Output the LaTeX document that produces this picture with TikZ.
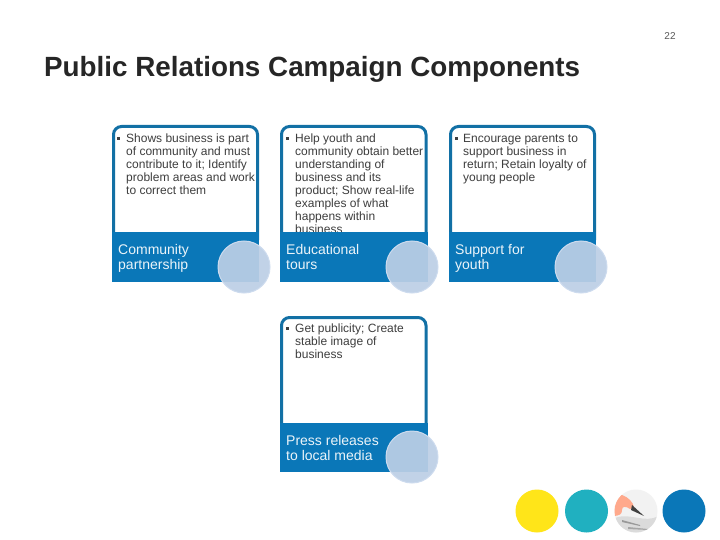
\documentclass[tikz,border=0pt]{standalone}
\usepackage{fontspec}
\setmainfont{Liberation Sans}
\definecolor{campblue}{RGB}{10,119,184}
\definecolor{edgeblue}{RGB}{18,112,165}
\definecolor{bubble}{RGB}{188,207,230}
\definecolor{bubbleedge}{RGB}{205,219,238}
\definecolor{sunny}{RGB}{255,229,25}
\definecolor{teal2}{RGB}{32,176,192}
\definecolor{bodytxt}{RGB}{62,62,62}
\tikzset{
  panel/.style={draw=edgeblue,line width=3pt,fill=white,rounded corners=8pt},
  band/.style={fill=campblue,draw=none},
  bubblec/.style={circle,fill=bubble,fill opacity=0.92,draw=bubbleedge,line width=1pt,minimum size=52pt,inner sep=0pt},
  bodytext/.style={anchor=north west,align=left,inner sep=0pt,text=bodytxt,font=\fontsize{12}{13}\selectfont},
  bulletmark/.style={anchor=center,inner sep=0pt,fill=black!75,minimum size=3pt},
  labeltext/.style={anchor=north west,align=left,inner sep=0pt,text=white!92!campblue,font=\fontsize{14}{15}\selectfont},
  dot/.style={circle,minimum size=43pt,inner sep=0pt}
}
\begin{document}
\begin{tikzpicture}[x=1pt,y=-1pt]
\useasboundingbox (0,0) rectangle (720,540);
\fill[white] (0,0) rectangle (720,540);
\node[anchor=base,text=black!65,font=\fontsize{10}{12}\selectfont] (pageno) at (670,40) {22};
\node[anchor=base west,inner sep=0pt,text=black!85,font=\bfseries\fontsize{27.8}{30}\selectfont] (title) at (44,77) {Public Relations Campaign Components};

% Card 1
\draw[panel] (113.5,240) -- (113.5,126.5) -- (257.5,126.5) -- (257.5,240);
\node[bulletmark] (b1) at (118,138.5) {};
\node[bodytext] (t1) at (126,134) {Shows business is part\\of community and must\\contribute to it; Identify\\problem areas and work\\to correct them};
\fill[band] (112,232) rectangle (259,282);
\node[labeltext] (l1) at (118,244.5) {Community\\partnership};
\node[bubblec] (c1) at (244,267) {};

% Card 2
\draw[panel] (281.5,240) -- (281.5,126.5) -- (426,126.5) -- (426,240);
\node[bulletmark] (b2) at (287,138.5) {};
\node[bodytext] (t2) at (295,134) {Help youth and\\community obtain better\\understanding of\\business and its\\product; Show real-life\\examples of what\\happens within\\business};
\fill[band] (280,232) rectangle (427.5,282);
\node[labeltext] (l2) at (286,244.5) {Educational\\tours};
\node[bubblec] (c2) at (412,267) {};

% Card 3
\draw[panel] (450.5,240) -- (450.5,126.5) -- (594.5,126.5) -- (594.5,240);
\node[bulletmark] (b3) at (456,138.5) {};
\node[bodytext] (t3) at (463,134) {Encourage parents to\\support business in\\return; Retain loyalty of\\young people};
\fill[band] (449,232) rectangle (596,282);
\node[labeltext] (l3) at (455,244.5) {Support for\\youth};
\node[bubblec] (c3) at (581,267) {};

% Card 4
\draw[panel] (281.5,430) -- (281.5,317.5) -- (426,317.5) -- (426,430);
\node[bulletmark] (b4) at (287,328.5) {};
\node[bodytext] (t4) at (295,324) {Get publicity; Create\\stable image of\\business};
\fill[band] (280,423) rectangle (427.5,472);
\node[labeltext] (l4) at (286,435.5) {Press releases\\to local media};
\node[bubblec] (c4) at (412,457) {};

% Bottom dots
\node[dot,fill=sunny] (d1) at (537,511) {};
\node[dot,fill=teal2] (d2) at (586.5,511) {};
\node[dot,fill=black!5] (d3) at (636,511) {};
\node[dot,fill=campblue] (d4) at (684,511) {};
\begin{scope}
\clip (d3.center) circle (21.5);
\fill[black!14] (615,518) .. controls (630,512) and (645,524) .. (658,516) -- (658,534) -- (615,534) -- cycle;
\fill[black!40] (622,520) -- (640,525) -- (640,526) -- (622,522) -- cycle;
\fill[black!35] (628,527) -- (648,529) -- (648,530) -- (628,529) -- cycle;
\fill[red!50!orange!45!white] (612,497) -- (622,495) .. controls (628,497) and (633,502) .. (634,507) -- (630,509) .. controls (626,506) and (622,506) .. (622,510) .. controls (622,514) and (620,516) .. (612,516) -- cycle;
\fill[black!75] (632,505) -- (644,516) -- (631,510) -- cycle;
\end{scope}
\end{tikzpicture}
\end{document}
